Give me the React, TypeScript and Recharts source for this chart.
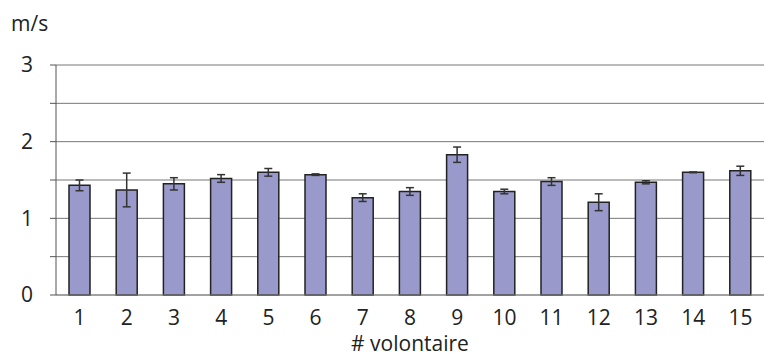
import React from 'react';
import { BarChart, Bar, XAxis, YAxis, CartesianGrid, ErrorBar } from 'recharts';

const volunteers = ['1', '2', '3', '4', '5', '6', '7', '8', '9', '10', '11', '12', '13', '14', '15'];
const speeds = [1.43, 1.37, 1.45, 1.52, 1.60, 1.57, 1.27, 1.35, 1.83, 1.35, 1.48, 1.21, 1.47, 1.60, 1.62];
const errors = [0.07, 0.22, 0.08, 0.05, 0.05, 0.01, 0.05, 0.05, 0.10, 0.03, 0.05, 0.11, 0.02, 0.005, 0.06];
const yTicks = [0, 0.5, 1, 1.5, 2, 2.5, 3];

const data = volunteers.map((v, i) => ({ name: v, speed: speeds[i], err: errors[i] }));

const FONT = '"Open Sans", sans-serif';

export default function App() {
  return (
    <div style={{ position: 'absolute', left: 0, top: 0, width: 764, height: 356, background: '#fff', fontFamily: FONT }}>
      <div style={{ position: 'absolute', left: 11, top: 11, fontSize: 21, lineHeight: '24px', color: '#222', fontFamily: FONT }}>m/s</div>
      <BarChart width={764} height={356} data={data} margin={{ top: 65, right: 0, bottom: 0, left: 0 }}>
        <CartesianGrid vertical={false} stroke="#777" strokeWidth={1} />
        <XAxis
          dataKey="name"
          height={61}
          tickLine={false}
          tickSize={6}
          tickMargin={9}
          axisLine={{ stroke: '#888' }}
          tick={{ fontSize: 21, fill: '#222', fontFamily: FONT }}
          interval={0}
          label={{ value: '# volontaire', position: 'insideBottom', offset: 5, fontSize: 21, fill: '#222', fontFamily: FONT }}
        />
        <YAxis
          width={56}
          domain={[0, 3]}
          ticks={yTicks}
          interval={0}
          tickSize={6}
          tickMargin={17}
          axisLine={{ stroke: '#555' }}
          tickLine={{ stroke: '#555' }}
          tickFormatter={(v: number) => (Number.isInteger(v) ? String(v) : '')}
          tick={{ fontSize: 21, fill: '#222', fontFamily: FONT }}
        />
        <Bar dataKey="speed" fill="#9999cc" stroke="#222" strokeWidth={1.5} barSize={21} isAnimationActive={false}>
          <ErrorBar dataKey="err" width={4} stroke="#333" strokeWidth={1.5} direction="y" />
        </Bar>
      </BarChart>
    </div>
  );
}
